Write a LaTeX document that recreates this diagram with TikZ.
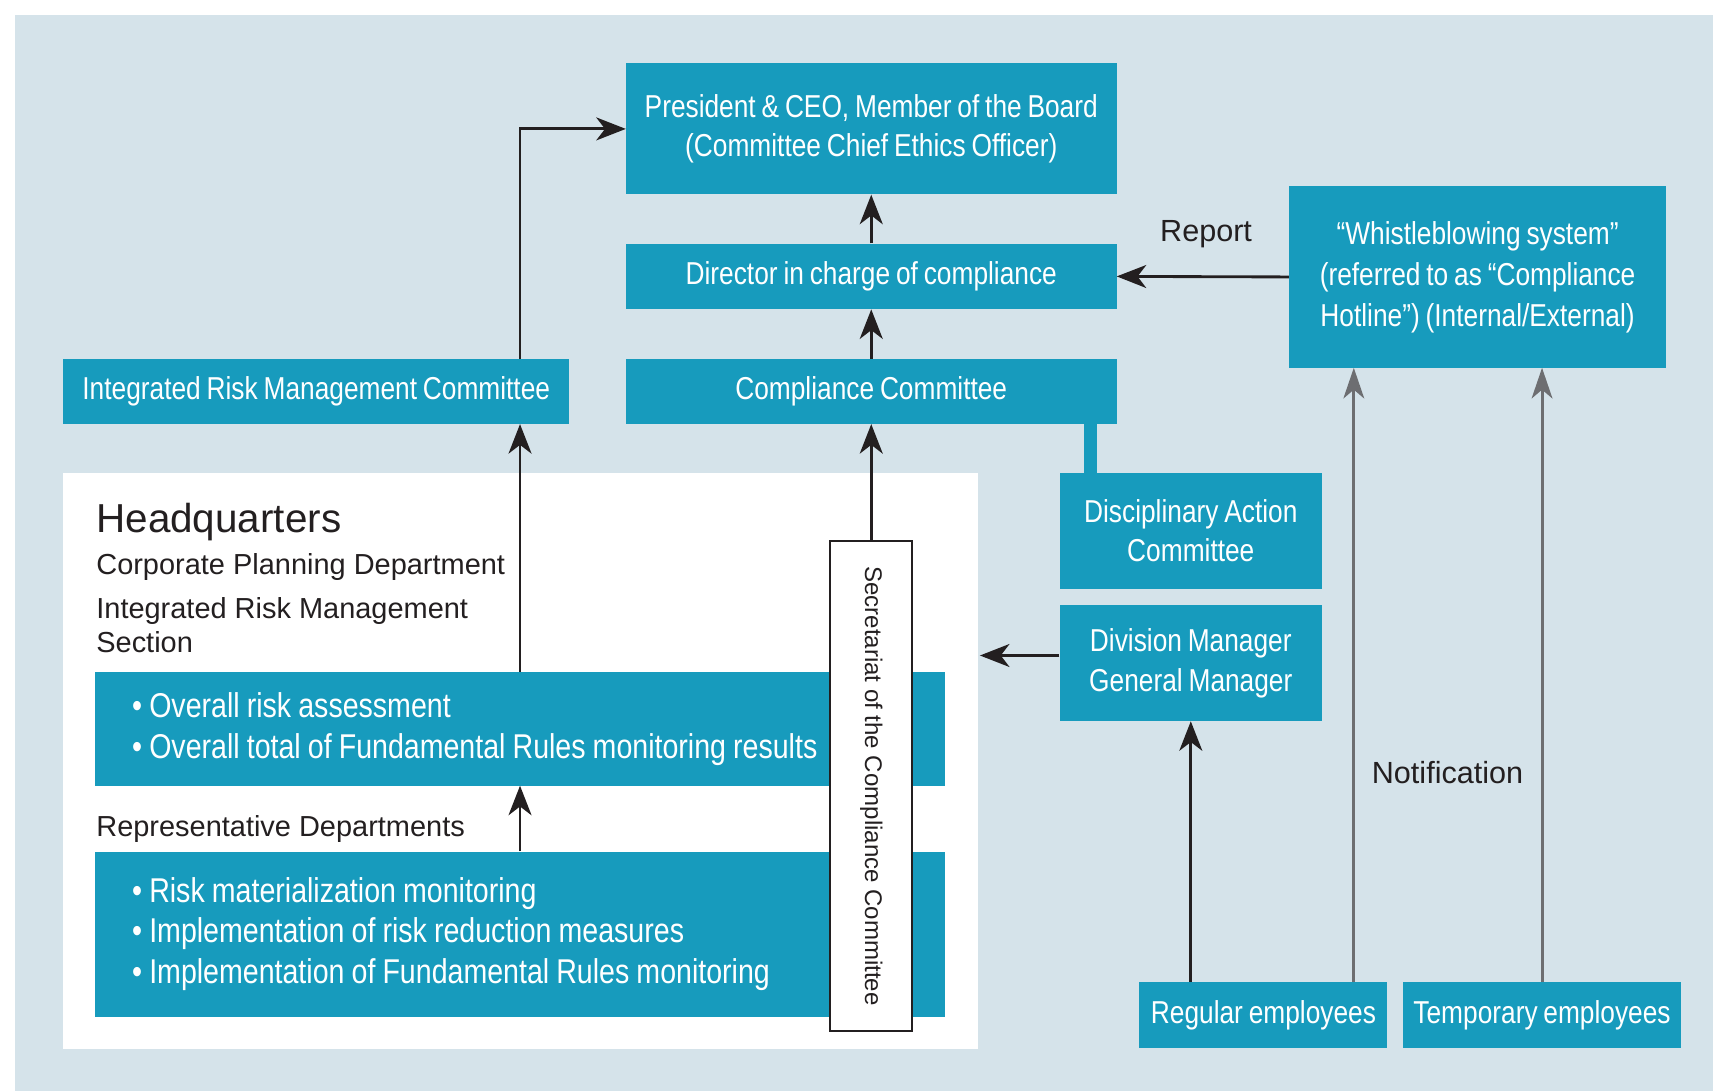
\documentclass[tikz,border=0pt]{standalone}
\usepackage{fontspec}
\setmainfont{Liberation Sans}
\newfontfamily\condfont[FakeStretch=0.83,WordSpace=0.8]{Liberation Sans}
\usetikzlibrary{arrows.meta,calc}
\definecolor{boxteal}{RGB}{23,155,189}
\definecolor{panelblue}{RGB}{213,227,234}
\definecolor{arrowgray}{RGB}{109,110,113}
\definecolor{inkblack}{RGB}{35,31,32}

\begin{document}
\begin{tikzpicture}[x=1pt,y=-1pt]
\tikzstyle{every node}+=[inner sep=0pt]
\tikzstyle{tealbox}=[fill=boxteal,text=white,align=center,font=\condfont\fontsize{29}{36}\selectfont]
\tikzstyle{listbox}=[fill=boxteal,text=white,align=left,text width=710pt,inner xsep=34pt,font=\condfont\fontsize{31.5}{37.5}\selectfont,execute at begin node={\spaceskip=6.5pt\xspaceskip=6.5pt\relax}]
\tikzstyle{plaintext}=[text=inkblack,align=left,font=\fontsize{26.5}{31}\selectfont]
\tikzstyle{arr}=[draw=inkblack,line width=2.6pt,-{Stealth[length=27pt,width=21pt,inset=8pt]}]
\tikzstyle{grayarr}=[draw=arrowgray,line width=2.8pt,-{Stealth[length=28pt,width=19pt,inset=8pt]}]
\useasboundingbox[fill=white] (0,0) rectangle (1568,999);
\fill[panelblue] (14,14) rectangle (1568,999);
\node[fill=white,minimum width=837pt,minimum height=527pt] (hqpanel) at (476.5,696.5) {};
\node[tealbox,minimum width=449pt,minimum height=120pt] (pres) at (797.5,118) {President \& CEO, Member of the Board\\(Committee Chief Ethics Officer)};
\node[tealbox,minimum width=449pt,minimum height=60pt] (dir) at (797.5,253) {Director in charge of compliance};
\node[tealbox,minimum width=449pt,minimum height=59pt] (comp) at (797.5,358.5) {Compliance Committee};
\node[tealbox,minimum width=463pt,minimum height=59pt] (irmc) at (289.5,358.5) {Integrated Risk Management Committee};
\node[tealbox,minimum width=345pt,minimum height=166pt,font=\condfont\fontsize{29}{37.5}\selectfont] (whistle) at (1352.5,253.5) {“Whistleblowing system”\\(referred to as “Compliance\\Hotline”) (Internal/External)};
\node[tealbox,minimum width=240pt,minimum height=106pt] (disc) at (1090,486) {Disciplinary Action\\Committee};
\node[tealbox,minimum width=240pt,minimum height=106pt,font=\condfont\fontsize{29}{37}\selectfont] (div) at (1090,607) {Division Manager\\General Manager};
\node[tealbox,minimum width=227pt,minimum height=60pt] (regular) at (1156.5,929) {Regular employees};
\node[tealbox,minimum width=255pt,minimum height=60pt] (temp) at (1411.5,929) {Temporary employees};
\node[listbox,minimum height=104pt] (hqbox) at (476,667) {• Overall risk assessment\\• Overall total of Fundamental Rules monitoring results};
\node[listbox,minimum height=151pt] (repbox) at (476,855) {• Risk materialization monitoring\\• Implementation of risk reduction measures\\• Implementation of Fundamental Rules monitoring};
\node[draw=inkblack,fill=white,line width=1.6pt,minimum width=75pt,minimum height=449pt,text=inkblack,font=\fontsize{22}{26}\selectfont] (secr) at (797.5,719.5) {\rotatebox{-90}{Secretariat of the Compliance Committee}};
\node[plaintext,anchor=base west,font=\fontsize{37}{41}\selectfont] (hqtitle) at (88,487) {Headquarters};
\node[plaintext,anchor=base west] (cpd) at (88,526) {Corporate Planning Department};
\node[plaintext,anchor=west] (irms) at (88,572) {Integrated Risk Management\\Section};
\node[plaintext,anchor=base west] (repdept) at (88,766) {Representative Departments};
\node[plaintext,anchor=base,font=\fontsize{28}{32}\selectfont] (report) at (1104,221) {Report};
\node[plaintext,anchor=base,font=\fontsize{28}{32}\selectfont] (notif) at (1325,717) {Notification};
\draw[boxteal,line width=12pt] ($(comp.south east)+(-24,0)$) coordinate (compfoot) -- (compfoot |- disc.north);
\draw[arr] (irmc.north -| hqbox.north) |- (pres.west);
\draw[arr] (dir.north) -- (pres.south);
\draw[arr] (comp.north) -- (dir.south);
\draw[arr] (secr.north) -- (comp.south);
\draw[arr] (hqbox.north) -- (hqbox.north |- irmc.south);
\draw[arr] (repbox.north) -- (hqbox.south);
\draw[arr] (whistle.west) -- (dir.east);
\coordinate (divout) at (897,600);
\draw[arr] (div.west |- divout) -- (divout);
\draw[arr] (div.south |- regular.north) -- (div.south);
\draw[grayarr] ($(regular.north east)+(-31,0)$) coordinate (regtop) -- (regtop |- whistle.south);
\draw[grayarr] (temp.north) -- (temp.north |- whistle.south);
\end{tikzpicture}
\end{document}
